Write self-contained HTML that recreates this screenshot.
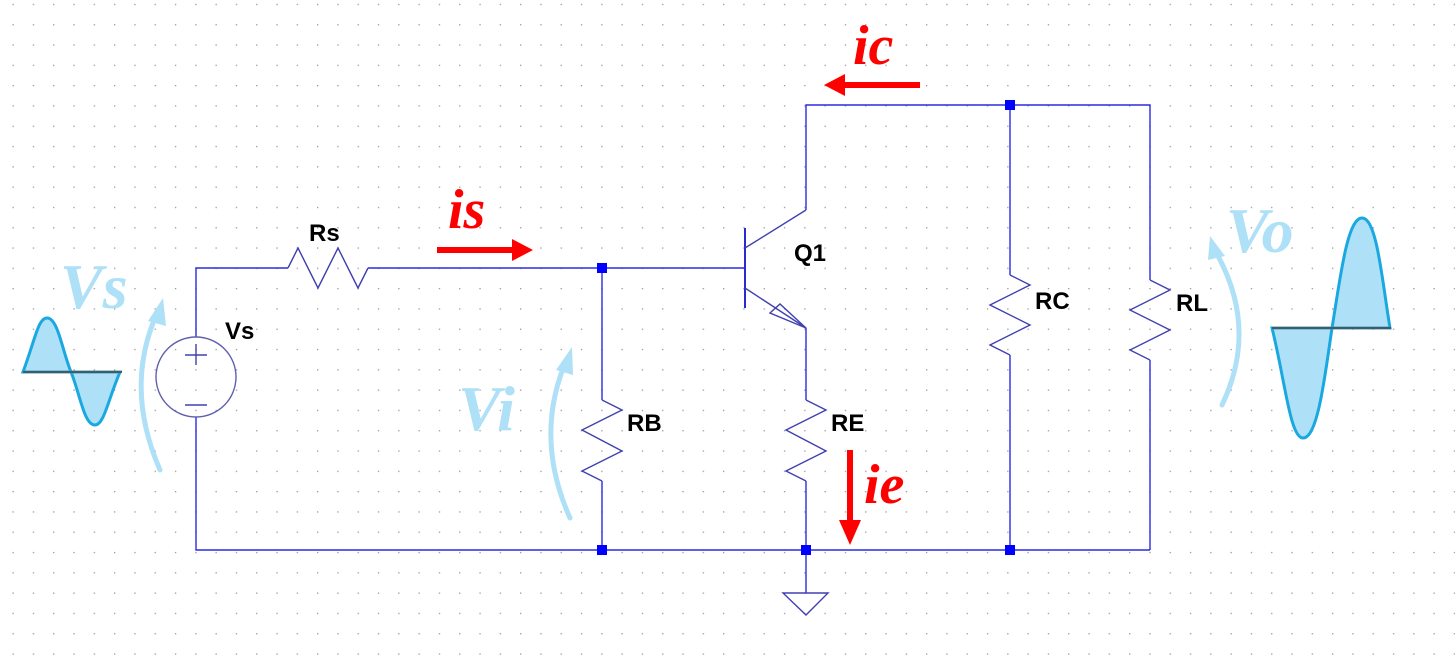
<!DOCTYPE html>
<html><head><meta charset="utf-8"><style>
html,body{margin:0;padding:0;background:#fff;}
svg{display:block;}
.w{stroke:#2a2ae0;stroke-width:1.4;fill:none;}
.r{stroke:#4040b0;stroke-width:1.4;fill:none;}
.lb{font-family:"Liberation Sans",sans-serif;font-weight:bold;font-size:24px;fill:#000;}
.red{font-family:"Liberation Serif",serif;font-style:italic;font-weight:bold;font-size:56px;fill:#f00;}
.blu{font-family:"Liberation Serif",serif;font-style:italic;font-weight:bold;font-size:64px;fill:#aee0f7;}
</style></head><body>
<svg width="1455" height="658" viewBox="0 0 1455 658" xmlns="http://www.w3.org/2000/svg">
<defs><pattern id="g" x="12" y="3.3" width="20.3" height="20.3" patternUnits="userSpaceOnUse"><rect x="0.5" y="0.5" width="1.3" height="1.3" fill="#999"/></pattern></defs>
<rect width="1455" height="658" fill="url(#g)"/>
<path class="w" d="M196 337V268H288M368 268H745M196 417V550H1150M602 268V400M602 481V550M806 210V105H1150V280M1150 360V550M1010 105V275M1010 355V550M806 328V400M806 481V593"/>
<path class="r" d="M288 268L298 248L318 288L338 248L358 288L368 268"/>
<path class="r" d="M602 400L622 410L582 430L622 451L582 471L602 481"/>
<path class="r" d="M806 400L826 410L786 430L826 451L786 471L806 481"/>
<path class="r" d="M1010 275L1030 285L990 305L1030 325L990 345L1010 355"/>
<path class="r" d="M1150 280L1170 290L1130 310L1170 330L1130 350L1150 360"/>
<circle cx="196" cy="377" r="40" fill="none" stroke="#6060b0" stroke-width="1.4"/>
<path class="r" d="M185 355H207M196 344V365M185 405H207"/>
<path stroke="#2a2ad0" stroke-width="2" d="M745 228V308"/>
<path class="r" d="M745 248L806 210M745 288L806 328"/>
<path class="r" d="M806 328L770 313L780 304Z"/>
<path class="r" d="M783 593H828L806 615Z"/>
<g fill="#0000ff"><rect x="597" y="263" width="10" height="10"/><rect x="597" y="545" width="10" height="10"/><rect x="801" y="545" width="10" height="10"/><rect x="1005" y="545" width="10" height="10"/><rect x="1005" y="100" width="10" height="10"/></g>
<text class="lb" x="309" y="241">Rs</text>
<text class="lb" x="225" y="339">Vs</text>
<text class="lb" x="794" y="261">Q1</text>
<text class="lb" x="627" y="431">RB</text>
<text class="lb" x="831" y="431">RE</text>
<text class="lb" x="1035" y="309">RC</text>
<text class="lb" x="1176" y="311">RL</text>
<g fill="#f00" stroke="none">
<rect x="437" y="247" width="76" height="6"/><path d="M512 239L533 250L512 261Z"/>
<rect x="845" y="82" width="75" height="6"/><path d="M845 74L824 85L845 96Z"/>
<rect x="847" y="450" width="6" height="72"/><path d="M839 520L850 545L861 520Z"/>
</g>
<text class="red" x="448" y="228">is</text>
<text class="red" x="853" y="64">ic</text>
<text class="red" x="864" y="503">ie</text>
<g stroke="#aee0f7" stroke-width="5" fill="none" stroke-linecap="round">
<path d="M160 470Q125 390 155 318"/>
<path d="M570 518Q535 440 564 366"/>
<path d="M1222 405Q1258 330 1218 256"/>
</g>
<g fill="#aee0f7">
<path d="M148 321L163 298L166 326Z"/>
<path d="M556 370L572 347L573 375Z"/>
<path d="M1208 260L1210 236L1225 256Z"/>
</g>
<text class="blu" x="60" y="308">Vs</text>
<text class="blu" x="458" y="430">Vi</text>
<text class="blu" x="1226" y="252">Vo</text>
<path d="M23 372C35 340 38 318 47 318C58 318 62 350 71 372C80 394 84 425 95 425C104 425 108 400 120 372Z" fill="#aee0f7" stroke="#1aa8e0" stroke-width="3"/>
<path d="M23 372H122" stroke="#555" stroke-width="2"/>
<path d="M1272 328C1285 380 1290 438 1303 438C1318 438 1325 375 1332 328C1340 280 1347 218 1362 218C1377 218 1382 280 1390 328Z" fill="#aee0f7" stroke="#1aa8e0" stroke-width="3"/>
<path d="M1272 328H1391" stroke="#555" stroke-width="2"/>
</svg>
</body></html>
